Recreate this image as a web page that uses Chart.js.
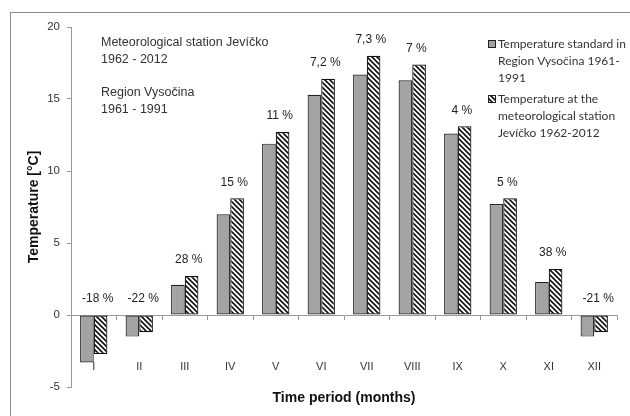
<!DOCTYPE html>
<html>
<head>
<meta charset="utf-8">
<script src="https://cdn.jsdelivr.net/npm/chart.js@4.4.1/dist/chart.umd.min.js"></script>
<style>
  html, body { margin: 0; padding: 0; background: #fff; overflow: hidden; }
  #wrap { position: relative; width: 630px; height: 416px; }
  #frame { position: absolute; left: 10px; top: 12px; width: 700px; height: 500px; border: 1px solid #8a8a8a; }
  #myChart { position: absolute; left: 0; top: 0; }
</style>
</head>
<body>
<div id="wrap">
  <div id="frame"></div>
  <canvas id="myChart" width="630" height="416"></canvas>
</div>
<script>
let months = ['I', 'II', 'III', 'IV', 'V', 'VI', 'VII', 'VIII', 'IX', 'X', 'XI', 'XII']
let regionTemps = [-3.3, -1.5, 2.1, 7.0, 11.9, 15.3, 16.7, 16.3, 12.6, 7.7, 2.3, -1.5]   // Vysocina 1961-1991
let stationTemps = [-2.7, -1.2, 2.7, 8.1, 12.7, 16.4, 18.0, 17.4, 13.1, 8.1, 3.2, -1.2]  // Jevicko 1962-2012
let pctLabels = ['-18 %', '-22 %', '28 %', '15 %', '11 %', '7,2 %', '7,3 %', '7 %', '4 %', '5 %', '38 %', '-21 %']
let yTicks = [-5, 0, 5, 10, 15, 20]

let noteLines = ['Meteorological station Jevíčko', '1962 - 2012', '', 'Region Vysočina', '1961 - 1991']
let legendLines = [
    ['Temperature standard in', 'Region Vysočina 1961-', '1991'],
    ['Temperature at the', 'meteorological station', 'Jevíčko 1962-2012']
]

let ctx = document.getElementById('myChart').getContext('2d')
const font = '"Liberation Sans", Arial, sans-serif'

// hatch pattern "\\\" for the station series
const makeHatch = () =>{
    let c = document.createElement('canvas')
    c.width = 5; c.height = 5
    let g = c.getContext('2d')
    g.fillStyle = '#fff'
    g.fillRect(0, 0, 5, 5)
    g.strokeStyle = '#111'
    g.lineWidth = 1.6
    g.beginPath()
    g.moveTo(-1, -1); g.lineTo(6, 6)
    g.moveTo(-1, 4); g.lineTo(1, 6)
    g.moveTo(4, -1); g.lineTo(6, 1)
    g.stroke()
    return ctx.createPattern(c, 'repeat')
}
let hatch = makeHatch()

// percent labels, note text and wrapped legend
const extras = {
    id: 'extras',
    afterDatasetsDraw(chart){
        let c = chart.ctx
        let xs = chart.scales.x
        let ys = chart.scales.y
        c.save()
        c.fillStyle = '#222'
        c.font = '12px ' + font
        c.textAlign = 'center'
        c.textBaseline = 'middle'
        for(let i = 0; i < months.length; i++){
            let top = Math.max(0, regionTemps[i], stationTemps[i])
            c.fillText(pctLabels[i], xs.getPixelForValue(i) + 4, ys.getPixelForValue(top) - 16)
        }

        c.textAlign = 'left'
        c.fillStyle = '#333'
        c.font = '12.5px ' + font
        let ny = 43
        for(let line of noteLines){
            if(line) c.fillText(line, 101, ny)
            ny += line ? 16.5 : 17
        }

        c.font = '12px Lato, "Open Sans", sans-serif'
        let ly = 44
        legendLines.forEach((lines, k) =>{
            let bx = 488, by = ly - 4
            c.fillStyle = k === 0 ? '#a3a3a3' : hatch
            c.fillRect(bx, by, 8, 8)
            c.strokeStyle = '#222'
            c.lineWidth = 1
            c.strokeRect(bx + 0.5, by + 0.5, 7, 7)
            c.fillStyle = '#333'
            for(let line of lines){
                c.fillText(line, 498, ly)
                ly += 17
            }
            ly += 4
        })
        c.restore()
    }
}

let chart = new Chart(ctx, {
    type: 'bar',
    data: {
        labels: months,
        datasets: [{
            label: 'Temperature standard in Region Vysočina 1961-1991',
            data: regionTemps,
            backgroundColor: '#a3a3a3',
            borderColor: '#222',
            borderWidth: 1.2,
            borderSkipped: false
        }, {
            label: 'Temperature at the meteorological station Jevíčko 1962-2012',
            data: stationTemps,
            backgroundColor: hatch,
            borderColor: '#111',
            borderWidth: 1.2,
            borderSkipped: false
        }]
    },
    options: {
        responsive: false,
        animation: false,
        layout: { padding: { left: 10, right: 13, top: 27, bottom: 0 } },
        datasets: { bar: { categoryPercentage: 0.6, barPercentage: 1 } },
        plugins: { legend: { display: false }, tooltip: { enabled: false } },
        scales: {
            // bottom axis: only carries the title
            x: {
                position: 'bottom',
                grid: { display: false },
                border: { display: false },
                ticks: { display: false },
                title: {
                    display: true,
                    text: 'Time period (months)',
                    color: '#111',
                    padding: { top: 0, bottom: 9 },
                    font: { family: font, size: 14, weight: 'bold' }
                },
                afterFit(scale){ scale.height = 29 }
            },
            // zero line with tick marks between months
            xz: {
                position: { y: 0 },
                labels: months,
                offset: true,
                grid: { drawOnChartArea: false, offset: true, tickLength: 4, color: '#999' },
                border: { color: '#999' },
                ticks: { display: false }
            },
            // month names sit low, below the negative bars (drawn over them)
            xl: {
                position: { y: -2.6 },
                labels: months,
                offset: true,
                z: 1,
                grid: { display: false },
                border: { display: false },
                ticks: {
                    padding: 0,
                    color: '#333',
                    font: { family: font, size: 11 }
                }
            },
            y: {
                min: -5,
                max: 20,
                afterBuildTicks(scale){ scale.ticks = yTicks.map(v => ({ value: v })) },
                grid: { drawOnChartArea: false, tickLength: 4, color: '#999' },
                border: { color: '#999' },
                ticks: {
                    padding: 7,
                    color: '#333',
                    font: { family: font, size: 11.5 }
                },
                title: {
                    display: true,
                    text: 'Temperature [°C]',
                    color: '#111',
                    padding: { top: 16, bottom: 0 },
                    font: { family: font, size: 14, weight: 'bold' }
                },
                afterFit(scale){ scale.width = 61 }
            }
        }
    },
    plugins: [extras]
})
</script>
</body>
</html>
